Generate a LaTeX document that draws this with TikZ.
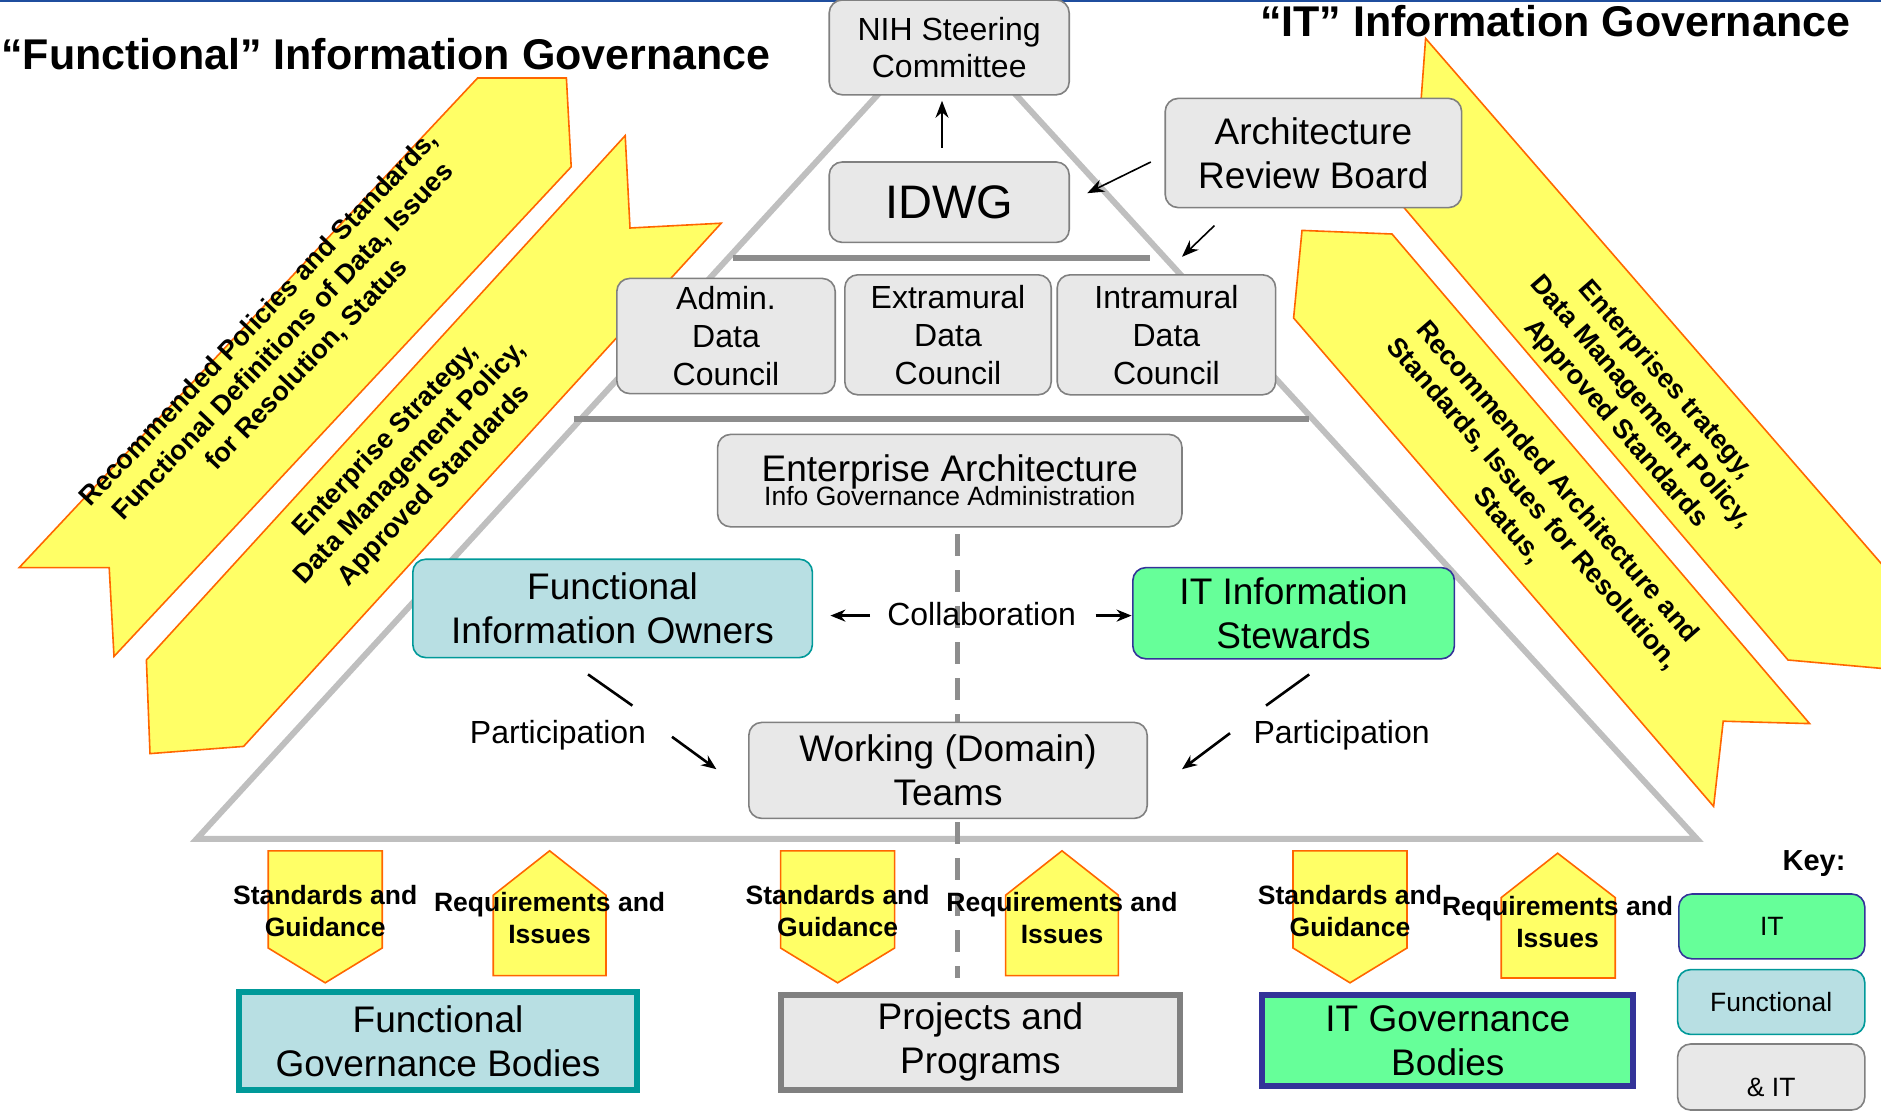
\documentclass[tikz,border=0pt]{standalone}
\usepackage{fontspec}
\setmainfont{Liberation Sans}
\usetikzlibrary{arrows.meta,decorations.text}
\definecolor{yel}{HTML}{FFFF66}
\definecolor{org}{HTML}{FF6600}
\definecolor{boxgray}{HTML}{E8E8E8}
\definecolor{boxedge}{HTML}{808080}
\definecolor{teal}{HTML}{009999}
\definecolor{ltteal}{HTML}{B8DFE3}
\definecolor{grn}{HTML}{66FF99}
\definecolor{navy}{HTML}{333399}
\definecolor{tri}{HTML}{BFBFBF}
\definecolor{topblue}{HTML}{1F4E9E}
\newcommand{\fsz}[2]{\fontsize{#1}{#2}\selectfont}
\newcommand{\bx}[7]{%
  \pgfmathsetmacro{\cxx}{(#2+#4)/2}\pgfmathsetmacro{\cyy}{(#3+#5)/2}%
  \pgfmathsetmacro{\ww}{(#4-#2)*1.2}\pgfmathsetmacro{\hh}{(#5-#3)*1.2}%
  \node[#6,minimum width=\ww pt,minimum height=\hh pt] (#1) at (\cxx,\cyy) {#7};}
\tikzset{
  x=1.2pt,y=-1.2pt,
  basebox/.style={draw=boxedge,fill=boxgray,line width=1.6pt,rounded corners=13pt,align=center,inner sep=0pt,text=black},
  funcbox/.style={basebox,draw=teal,fill=ltteal},
  itbox/.style={basebox,draw=navy,fill=grn},
  body/.style={draw=boxedge,fill=boxgray,line width=6pt,sharp corners,align=center,inner sep=0pt},
  fbody/.style={body,draw=teal,fill=ltteal},
  ibody/.style={body,draw=navy,fill=grn},
  yarrow/.style={fill=yel,draw=org,line width=1.6pt,line join=miter},
  ytext/.style={align=center,font=\bfseries\fsz{27}{33},inner sep=0pt},
  ptext/.style={align=center,font=\bfseries\fsz{26.5}{32},inner sep=0pt},
  flow/.style={line width=2.6pt,-{Stealth[length=15pt,width=12pt]}},
  flowend/.style={line width=2.6pt},
  thin flow/.style={line width=1.6pt,-{Stealth[length=17pt,width=13pt]}},
  bar/.style={line width=6pt,draw=boxedge!90},
}
\begin{document}
\begin{tikzpicture}
\useasboundingbox (0,0) rectangle (1567.5,925.8);
% top rule
\coordinate (ruleA) at (0,1);\coordinate (ruleB) at (1568,1);
\draw[topblue,line width=2pt] (ruleA) -- (ruleB);
% pyramid
\draw[tri,line width=6pt,line join=miter] (789,16) -- (1414,699) -- (164,699) -- cycle;
% dashed centre
\coordinate (dashA) at (798,445);\coordinate (dashB) at (798,815);
\draw[boxedge!90,line width=5pt,dash pattern=on 22pt off 14pt] (dashA) -- (dashB);
% bars
\coordinate (barAa) at (611,215);\coordinate (barAb) at (958,215);
\coordinate (barBa) at (478,349);\coordinate (barBb) at (1091,349);
\draw[bar] (barAa) -- (barAb);
\draw[bar] (barBa) -- (barBb);
% yellow arrows
\fill[yel] (0,0) -- (0,0);
\draw[yarrow] (398,65) -- (472,65) -- (476,139) -- (95,547) -- (91,473) -- (16,473) -- cycle;
\draw[yarrow] (521,113) -- (525,190) -- (601,186) -- (203,622) -- (125,628) -- (122,550) -- cycle;
\path[fill=yel] (1188,32) -- (1568,470) -- (1568,557) -- (1490,550) -- (1170,173) -- (1183,100) -- cycle;
\draw[org,line width=1.6pt] (1170,173) -- (1183,100) -- (1188,32) -- (1568,470);
\draw[org,line width=1.6pt] (1170,173) -- (1490,550) -- (1568,557);
\draw[yarrow] (1085,192) -- (1160,195) -- (1508,603) -- (1436,601) -- (1428,672) -- (1078,265) -- cycle;
\node[ytext,rotate=46.5] (tL1) at (236,285) {Recommended Policies and Standards,\\Functional Definitions of Data, Issues\\for Resolution, Status};
\node[ytext,rotate=46.5] (tL2) at (342,386) {Enterprise Strategy,\\Data Management Policy,\\Approved Standards};
\node[ytext,rotate=-49] (tR1) at (1367,335) {Enterprises trategy,\\Data Management Policy,\\Approved Standards};
\node[ytext,rotate=-49] (tR2) at (1277,420) {Recommended Architecture and\\Standards, Issues for Resolution,\\Status,};
% titles
\node[anchor=west,inner sep=0pt,font=\bfseries\fsz{43}{50}] (t1) at (1,45) {“Functional” Information Governance};
\node[anchor=east,inner sep=0pt,font=\bfseries\fsz{43}{50}] (t2) at (1542,18) {“IT” Information Governance};
% boxes
\bx{nih}{691}{0}{891}{79}{basebox,font=\fsz{32}{37}}{NIH Steering\\Committee}
\bx{idwg}{691}{135}{891}{202}{basebox,font=\fsz{47}{50}}{IDWG}
\bx{arb}{971}{82}{1218}{173}{basebox,font=\fsz{37}{44}}{Architecture\\Review Board}
\bx{adm}{514}{232}{696}{328}{basebox,font=\fsz{32}{38}}{Admin.\\Data\\Council}
\bx{ext}{704}{229}{876}{329}{basebox,font=\fsz{32}{38}}{Extramural\\Data\\Council}
\bx{int}{881}{229}{1063}{329}{basebox,font=\fsz{32}{38}}{Intramural\\Data\\Council}
\bx{ea}{598}{362}{985}{439}{basebox}{{\fsz{37}{44}Enterprise Architecture}\\[-4pt]{\fsz{26.5}{32}Info Governance Administration}}
\bx{fio}{344}{466}{677}{548}{funcbox,font=\fsz{37}{44}}{Functional\\Information Owners}
\bx{its}{944}{473}{1212}{549}{itbox,font=\fsz{37}{44}}{IT Information\\Stewards}
\bx{wdt}{624}{602}{956}{682}{basebox,font=\fsz{37}{44}}{Working (Domain)\\Teams}
% labels
\node[inner sep=0pt,font=\fsz{32}{38}] (col) at (818,512) {Collaboration};
\node[inner sep=0pt,font=\fsz{32}{38}] (parL) at (465,613) {Participation};
\node[inner sep=0pt,font=\fsz{32}{38}] (parR) at (1118,613) {Participation};
% connectors
\coordinate (c1) at (725,513);\coordinate (c2) at (692,513);
\coordinate (c3) at (913,513);\coordinate (c4) at (943,513);
\draw[flow] (c1) -- (c2);
\draw[flow] (c3) -- (c4);
\coordinate (p1) at (490,562);\coordinate (p2) at (527,588);
\coordinate (p3) at (560,614);\coordinate (p4) at (597,641);
\draw[flowend] (p1) -- (p2);
\draw[flow] (p3) -- (p4);
\coordinate (q1) at (1091,562);\coordinate (q2) at (1055,588);
\coordinate (q3) at (1025,611);\coordinate (q4) at (985,641);
\draw[flowend] (q1) -- (q2);
\draw[flow] (q3) -- (q4);
\coordinate (u1) at (785,123);\coordinate (u2) at (785,84);
\draw[thin flow] (u1) -- (u2);
\coordinate (a1) at (959,135);\coordinate (a2) at (906,161);
\draw[thin flow] (a1) -- (a2);
\coordinate (a3) at (1012,188);\coordinate (a4) at (985,214);
\draw[thin flow] (a3) -- (a4);
% pentagons
\foreach \c in {271,698,1125}{
  \draw[yarrow] (\c-47.5,709) -- (\c+47.5,709) -- (\c+47.5,790) -- (\c,819) -- (\c-47.5,790) -- cycle;
  \node[ptext] (sg\c) at (\c,759) {Standards and\\Guidance};
}
\draw[yarrow] (411,813) -- (505,813) -- (505,746) -- (458,709) -- (411,746) -- cycle;
\node[ptext] (r1) at (458,765) {Requirements and\\Issues};
\draw[yarrow] (838,813) -- (932,813) -- (932,746) -- (885,709) -- (838,746) -- cycle;
\node[ptext] (r2) at (885,765) {Requirements and\\Issues};
\draw[yarrow] (1251,815) -- (1346,815) -- (1346,748) -- (1298,711) -- (1251,748) -- cycle;
\node[ptext] (r3) at (1298,768) {Requirements and\\Issues};
% bodies
\bx{fb}{199}{827}{531}{908}{fbody,font=\fsz{37}{44}}{Functional\\Governance Bodies}
\bx{pb}{651}{829}{983}{908}{body,font=\fsz{37}{44}}{Projects and\\Programs}
\bx{ib}{1052}{829}{1361}{905}{ibody,font=\fsz{37}{44}}{IT Governance\\Bodies}
% key
\node[anchor=east,inner sep=0pt,font=\bfseries\fsz{29}{34}] (key) at (1538,720) {Key:};
\bx{k1}{1399}{745}{1554}{799}{itbox,font=\fsz{26.5}{32}}{IT}
\bx{k2}{1398}{808}{1554}{862}{funcbox,font=\fsz{26.5}{32}}{Functional}
\bx{k3}{1398}{870}{1554}{925}{basebox,font=\fsz{26.5}{32}}{\rule{0pt}{40pt}\& IT}
\end{tikzpicture}
\end{document}
